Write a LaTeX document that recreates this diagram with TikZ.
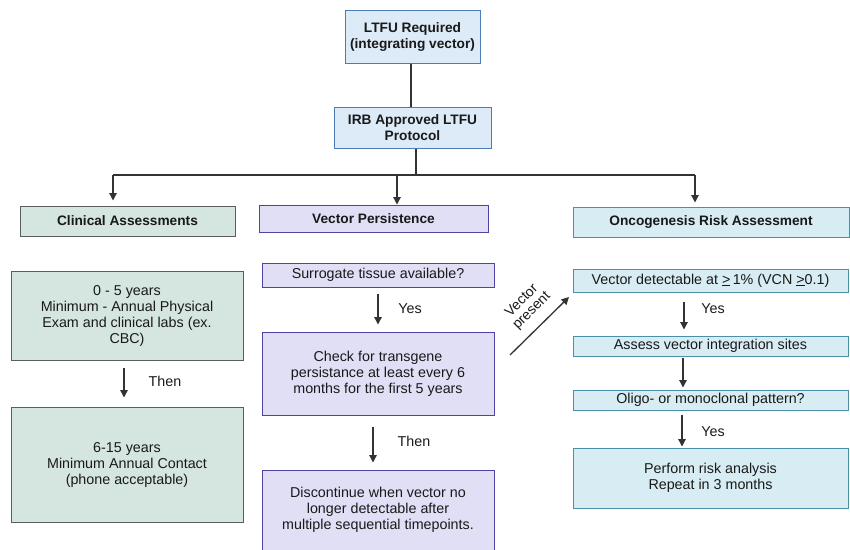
\documentclass[tikz,border=0pt]{standalone}
\usepackage{fontspec}
\setmainfont{Liberation Sans}
\usetikzlibrary{arrows.meta}
\definecolor{blueF}{HTML}{DDEAF7}
\definecolor{blueD}{HTML}{4A7DB3}
\definecolor{greenF}{HTML}{D5E6E1}
\definecolor{greenD}{HTML}{5A5F5E}
\definecolor{purpF}{HTML}{E1DFF6}
\definecolor{purpD}{HTML}{4E43A3}
\definecolor{cyanF}{HTML}{D7ECF3}
\definecolor{cyanD}{HTML}{4C8FA8}
\definecolor{lineC}{HTML}{333333}
\tikzset{
  box/.style={draw, line width=1pt, inner sep=1pt, align=center, text=black!90, font=\fontsize{14.3}{16}\selectfont},
  head/.style={box, font=\fontsize{13.7}{16}\selectfont\bfseries},
  bluebox/.style={fill=blueF, draw=blueD},
  greenbox/.style={fill=greenF, draw=greenD},
  purpbox/.style={fill=purpF, draw=purpD},
  cyanbox/.style={fill=cyanF, draw=cyanD},
  conn/.style={draw=lineC, line width=1.3pt},
  arr/.style={conn, -{Triangle[width=7.5pt,length=7.5pt]}},
  lbl/.style={font=\fontsize{14.3}{16}\selectfont, text=black!90},
}
\begin{document}
\begin{tikzpicture}[x=1pt,y=-1pt]
\useasboundingbox (0,0) rectangle (850,549);
% top
\node[head,bluebox,minimum width=135pt,minimum height=53pt] (top) at (412.5,36.5) {LTFU Required\\(integrating vector)};
\node[head,bluebox,minimum width=157pt,minimum height=41pt] (irb) at (412.5,127.5) {IRB Approved LTFU\\Protocol};
% headings
\node[head,greenbox,minimum width=215pt,minimum height=30pt] (clin) at (127.5,221) {Clinical Assessments};
\node[head,purpbox,minimum width=229pt,minimum height=27pt] (vp) at (373.5,218.5) {Vector Persistence};
\node[head,cyanbox,minimum width=276pt,minimum height=30pt] (onc) at (711,222) {Oncogenesis Risk Assessment};
% clinical column
\node[box,greenbox,minimum width=232pt,minimum height=89pt] (c1) at (127,315.5) {0 - 5 years\\Minimum - Annual Physical\\Exam and clinical labs (ex.\\CBC)};
\node[box,greenbox,minimum width=232pt,minimum height=115pt] (c2) at (127,464.5) {6-15 years\\Minimum Annual Contact\\(phone acceptable)};
% vector persistence column
\node[box,purpbox,minimum width=232pt,minimum height=24pt] (s1) at (378,275) {Surrogate tissue available?};
\node[box,purpbox,minimum width=232pt,minimum height=83pt] (s2) at (378,373.5) {Check for transgene\\persistance at least every 6\\months for the first 5 years};
\node[box,purpbox,minimum width=232pt,minimum height=80pt] (s3) at (378,510) {Discontinue when vector no\\longer detectable after\\multiple sequential timepoints.};
% oncogenesis column
\node[box,cyanbox,minimum width=275pt,minimum height=23pt] (o1) at (710.5,280.5) {Vector detectable at \underline{>}\,1\% (VCN \underline{>}0.1)};
\node[box,cyanbox,minimum width=275pt,minimum height=20pt] (o2) at (710.5,346) {Assess vector integration sites};
\node[box,cyanbox,minimum width=275pt,minimum height=20pt] (o3) at (710.5,400) {Oligo- or monoclonal pattern?};
\node[box,cyanbox,minimum width=275pt,minimum height=60pt] (o4) at (710.5,478) {Perform risk analysis\\Repeat in 3 months};
% connectors top
\draw[conn] (top.south -| 411,0) -- (irb.north -| 411,0);
\coordinate (jm) at (416,175);
\coordinate (jl) at (113,175);
\coordinate (jc) at (397,175);
\coordinate (jr) at (695,175);
\draw[conn] (irb.south -| jm) -- (jm);
\draw[conn] (jl) -- (jr);
\draw[arr, shorten >=5pt] (jl) -- (jl |- clin.north);
\draw[arr] (jc) -- (jc |- vp.north);
\draw[arr, shorten >=4pt] (jr) -- (jr |- onc.north);
% clinical
\coordinate (a1) at (124,0);
\draw[arr, shorten <=7pt, shorten >=9pt] (c1.south -| a1) -- (c2.north -| a1);
\node[lbl] (t1) at (165,381) {Then};
% vector persistence
\coordinate (a2) at (378,0);
\coordinate (a3) at (373,0);
\draw[arr, shorten <=6pt, shorten >=7pt] (s1.south -| a2) -- (s2.north -| a2);
\node[lbl] (t2) at (410,309) {Yes};
\draw[arr, shorten <=11pt, shorten >=7pt] (s2.south -| a3) -- (s3.north -| a3);
\node[lbl] (t3) at (414,441) {Then};
% vector present
\coordinate (vA) at (510,355);
\coordinate (vB) at (569,297);
\draw[arr] (vA) -- (vB);
\node[lbl, rotate=45, align=center, font=\fontsize{14}{14}\selectfont] (t4) at (527,306) {Vector\\present};
% oncogenesis
\coordinate (a4) at (684,0);
\coordinate (a5) at (683,0);
\coordinate (a6) at (682,0);
\draw[arr, shorten <=9pt, shorten >=6pt] (o1.south -| a4) -- (o2.north -| a4);
\node[lbl] (t5) at (713,309) {Yes};
\draw[arr, shorten <=1pt, shorten >=2pt] (o2.south -| a5) -- (o3.north -| a5);
\draw[arr, shorten <=4pt, shorten >=1pt] (o3.south -| a6) -- (o4.north -| a6);
\node[lbl] (t6) at (713,432) {Yes};
\end{tikzpicture}
\end{document}
